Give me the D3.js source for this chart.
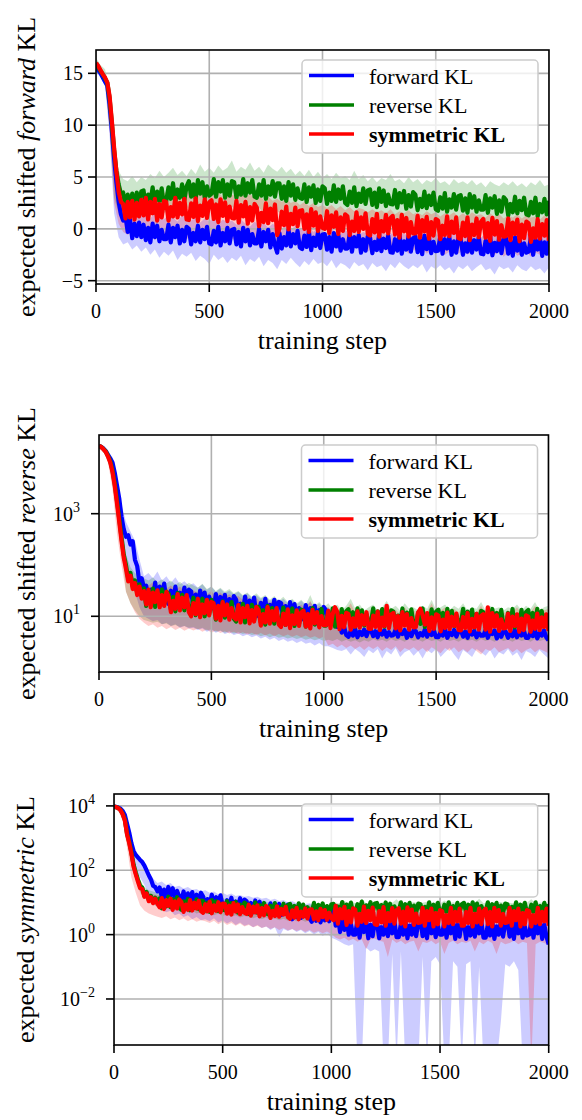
<!DOCTYPE html>
<html><head><meta charset="utf-8">
<script src="https://cdn.jsdelivr.net/npm/d3@7"></script>
<style>body{margin:0;background:#fff}svg{display:block}text{font-family:'Liberation Serif','DejaVu Serif',serif;fill:#000}</style>
</head><body><svg id="c" width="582" height="1120" font-family="Liberation Serif, DejaVu Serif, serif"></svg>
<script>
// ---------- shared ----------
const steps = d3.range(0, 2001, 10);      // training steps of the mean curves
const bandSteps = d3.range(0, 2001, 20);  // training steps of the shaded bands
const xTicks = [0, 500, 1000, 1500, 2000];
const seriesNames = ["forward KL", "reverse KL", "symmetric KL"];
const seriesColors = ["#0000ff", "#008000", "#ff0000"];

// ---------- panel 1: expected shifted forward KL (linear) ----------
const p1YTicks = [-5, 0, 5, 10, 15];
const p1FwdMean = [15.8,15.3,15.0,14.6,14.2,13.8,12.0,9.5,6.8,4.5,2.6,1.4,0.8,1.2,-0.3,0.9,-0.9,0.5,-0.7,0.6,-0.8,
0.4,-1.1,0.1,-1.3,0.5,-0.8,0.3,-1.2,-0.1,-1.0,
-1.0,0.4,-1.3,0.1,-0.8,0.3,-1.4,-0.1,-1.2,0.2,
0.0,-1.5,-0.4,-1.2,0.3,-1.3,-0.1,-1.0,0.2,-1.4,
-1.5,-0.2,-1.3,0.2,-1.6,-0.4,-1.2,0.1,-1.4,-0.1,
0.0,-1.5,-0.3,-1.7,0.1,-1.2,-0.1,-1.6,-0.5,-1.4,
-1.4,0.0,-1.7,-0.3,-1.2,-0.1,-1.8,-0.5,-1.6,-2.3,
-0.4,-1.9,-0.8,-1.6,-0.1,-1.7,-0.5,-1.4,-0.2,-1.8,
-1.95,-0.65,-1.75,-0.25,-2.05,-0.85,-1.65,-0.35,-1.85,-0.55,
-0.5,-2.0,-0.8,-2.2,-0.4,-1.7,-0.6,-2.1,-1.0,-1.9,
-1.9,-0.5,-2.2,-0.8,-1.7,-0.6,-2.3,-1.0,-2.1,-0.7,
-0.85,-2.35,-1.25,-2.05,-0.55,-2.15,-0.95,-1.85,-0.65,-2.25,
-2.3,-1.0,-2.1,-0.6,-2.4,-1.2,-2.0,-0.7,-2.2,-0.9,
-0.75,-2.25,-1.05,-2.45,-0.65,-1.95,-0.85,-2.35,-1.25,-2.15,
-2.1,-0.7,-2.4,-1.0,-1.9,-0.8,-2.5,-1.2,-2.3,-0.9,
-1.0,-2.5,-1.4,-2.2,-0.7,-2.3,-1.1,-2.0,-0.8,-2.4,
-2.45,-1.15,-2.25,-0.75,-2.55,-1.35,-2.15,-0.85,-2.35,-1.05,
-0.9,-2.4,-1.2,-2.6,-0.8,-2.1,-1.0,-2.5,-1.4,-2.3,
-2.2,-0.8,-2.5,-1.1,-2.0,-0.9,-2.6,-1.3,-2.4,-1.0];
const p1RevMean = [16.0,15.6,15.2,14.9,14.5,14.1,12.6,10.2,7.6,5.6,4.3,3.4,3.5,2.1,3.3,2.2,3.4,2.0,3.5,2.4,3.6,
3.7,2.2,3.3,2.5,4.0,2.4,3.6,2.7,3.9,2.3,
2.7,4.0,2.9,4.4,2.6,3.8,3.0,4.3,2.8,4.1,
4.6,3.1,4.3,2.9,4.7,3.4,4.5,3.0,4.1,3.2,
3.4,4.8,3.1,4.5,3.6,4.7,3.0,4.3,3.2,4.6,
4.5,3.0,4.1,3.3,4.8,3.2,4.4,3.5,4.7,3.1,
3.0,4.3,3.2,4.7,2.9,4.1,3.3,4.6,3.1,4.4,
4.4,2.9,4.1,2.7,4.5,3.2,4.3,2.8,3.9,3.0,
2.9,4.3,2.6,4.0,3.1,4.2,2.5,3.8,2.7,4.1,
3.9,2.4,3.5,2.7,4.2,2.6,3.8,2.9,4.1,2.5,
2.3,3.6,2.5,4.0,2.2,3.4,2.6,3.9,2.4,3.7,
3.8,2.3,3.5,2.1,3.9,2.6,3.7,2.2,3.3,2.4,
2.35,3.75,2.05,3.45,2.55,3.65,1.95,3.25,2.15,3.55,
3.3,1.8,2.9,2.1,3.6,2.0,3.2,2.3,3.5,1.9,
1.75,3.05,1.95,3.45,1.65,2.85,2.05,3.35,1.85,3.15,
3.25,1.75,2.95,1.55,3.35,2.05,3.15,1.65,2.75,1.85,
1.85,3.25,1.55,2.95,2.05,3.15,1.45,2.75,1.65,3.05,
2.8,1.3,2.4,1.6,3.1,1.5,2.7,1.8,3.0,1.4,
1.3,2.6,1.5,3.0,1.2,2.4,1.6,2.9,1.4,2.7];
const p1SymMean = [16.0,15.7,15.3,14.9,14.6,14.1,12.8,10.4,7.8,5.5,3.6,2.6,2.4,1.0,2.6,1.1,2.7,0.9,2.5,1.2,2.8,
1.3,3.0,0.9,2.6,1.5,2.9,0.8,2.4,1.1,2.7,
2.6,0.8,2.1,1.2,3.0,1.1,2.5,1.4,2.9,0.9,
0.85,2.45,1.15,2.95,0.75,2.25,1.25,2.85,1.05,2.55,
2.75,0.95,2.35,0.65,2.85,1.25,2.55,0.75,2.15,1.05,
1.0,2.7,0.6,2.3,1.2,2.6,0.5,2.1,0.8,2.4,
2.05,0.25,1.55,0.65,2.45,0.55,1.95,0.85,2.35,-0.6,
0.05,1.65,0.35,2.15,-0.05,1.45,0.45,2.05,0.25,1.75,
1.8,0.0,1.4,-0.3,1.9,0.3,1.6,-0.2,1.2,0.1,
0.0,1.7,-0.4,1.3,0.2,1.6,-0.5,1.1,-0.2,1.4,
1.2,-0.6,0.7,-0.2,1.6,-0.3,1.1,0.0,1.5,-0.5,
-0.65,0.95,-0.35,1.45,-0.75,0.75,-0.25,1.35,-0.45,1.05,
1.25,-0.55,0.85,-0.85,1.35,-0.25,1.05,-0.75,0.65,-0.45,
-0.45,1.25,-0.85,0.85,-0.25,1.15,-0.95,0.65,-0.65,0.95,
0.8,-1.0,0.3,-0.6,1.2,-0.7,0.7,-0.4,1.1,-0.9,
-1.0,0.6,-0.7,1.1,-1.1,0.4,-0.6,1.0,-0.8,0.7,
0.95,-0.85,0.55,-1.15,1.05,-0.55,0.75,-1.05,0.35,-0.75,
-0.7,1.0,-1.1,0.6,-0.5,0.9,-1.2,0.4,-0.9,0.7,
0.55,-1.25,0.05,-0.85,0.95,-0.95,0.45,-0.65,0.85,-1.15];
const p1FwdHi = [16.3,15.6,15.0,12.3,7.2,3.5,2.2,1.8,1.6,1.9,1.3,
1.5,1.0,1.6,1.2,0.9,1.4,1.1,0.7,1.3,1.0,
0.8,1.2,0.6,1.0,0.7,1.1,0.5,0.9,0.6,0.8,
0.4,0.9,0.5,0.2,0.7,0.3,0.6,0.1,0.5,0.2,
0.0,0.4,-0.1,0.3,0.0,-0.2,0.2,-0.3,0.1,-0.2,
-0.4,0.0,-0.3,-0.5,-0.1,-0.4,-0.2,-0.6,-0.3,-0.5,
-0.3,-0.6,-0.2,-0.5,-0.4,-0.7,-0.3,-0.5,-0.6,-0.4,
-0.6,-0.3,-0.7,-0.5,-0.4,-0.8,-0.5,-0.6,-0.3,-0.7,
-0.5,-0.7,-0.4,-0.6,-0.8,-0.5,-0.6,-0.4,-0.7,-0.5,
-0.6,-0.8,-0.5,-0.7,-0.4,-0.6,-0.8,-0.5,-0.7,-0.6];
const p1FwdLo = [15.2,14.6,13.8,9.0,1.5,-0.8,-1.5,-1.3,-2.0,-1.6,-2.2,
-1.8,-2.5,-2.0,-2.8,-2.2,-2.6,-2.1,-3.0,-2.4,-2.7,
-2.3,-3.1,-2.6,-2.9,-3.4,-2.5,-3.0,-2.7,-3.3,-2.8,
-3.1,-2.6,-3.5,-2.9,-3.2,-2.7,-3.6,-3.0,-3.3,-3.9,
-3.0,-3.4,-2.8,-3.3,-3.7,-3.1,-3.5,-2.9,-3.4,-3.2,
-3.6,-3.0,-3.8,-3.3,-3.5,-3.9,-3.2,-3.6,-3.4,-4.0,
-3.3,-3.7,-3.5,-4.1,-3.4,-3.8,-3.2,-3.6,-3.9,-3.5,
-3.8,-3.4,-4.2,-3.6,-3.9,-3.5,-4.0,-3.7,-4.3,-3.6,
-3.9,-3.5,-4.1,-3.7,-3.4,-4.0,-3.8,-4.4,-3.6,-3.9,
-3.7,-4.2,-3.5,-3.9,-4.1,-3.6,-4.0,-3.8,-4.3,-3.7];
const p1RevHi = [16.5,15.8,15.4,13.5,8.5,5.6,4.8,4.6,5.1,4.5,5.0,
4.7,5.3,4.9,5.6,5.0,5.4,5.9,5.2,5.6,5.1,
5.8,5.3,6.2,5.5,5.9,5.4,6.1,5.6,5.9,6.6,
5.5,6.0,5.7,6.4,5.6,6.0,5.4,6.2,5.8,5.5,
6.0,5.4,5.8,5.2,5.6,5.1,5.7,5.0,5.5,4.9,
5.3,4.8,5.4,4.9,5.1,4.7,5.6,4.8,5.2,4.6,
5.0,4.5,4.9,4.7,5.3,4.6,4.8,4.4,5.0,4.5,
4.8,4.3,4.7,4.5,4.9,4.4,4.6,4.2,4.8,4.4,
4.6,4.3,4.7,4.2,4.5,4.0,4.6,4.3,4.1,4.5,
4.2,4.6,4.1,4.4,4.0,4.5,4.2,4.7,4.1,4.3];
const p1RevLo = [15.4,14.8,14.0,10.0,3.0,1.5,0.8,1.0,1.2,1.0,1.4,
1.2,1.6,1.3,1.8,1.5,1.9,1.6,2.0,1.7,2.1,
1.8,2.2,1.9,2.3,2.0,2.2,1.9,2.3,2.0,2.1,
1.9,2.2,1.8,2.1,1.7,2.0,1.6,1.9,1.5,1.7,
1.4,1.6,1.3,1.5,1.2,1.4,1.1,1.3,1.0,1.2,
0.9,1.1,0.8,1.0,0.7,0.9,0.6,0.8,0.5,0.7,
0.6,0.4,0.7,0.5,0.3,0.6,0.4,0.2,0.5,0.3,
0.4,0.2,0.5,0.1,0.3,0.0,0.4,0.2,-0.1,0.2,
0.0,0.3,-0.1,0.2,0.0,-0.2,0.1,-0.1,0.2,-0.2,
0.0,-0.3,0.1,-0.2,0.0,-0.3,-0.1,0.1,-0.2,-0.1];
const p1SymHi = [16.4,15.7,15.0,12.5,7.0,3.8,3.2,3.0,3.4,3.1,3.5,
3.2,3.6,3.3,3.7,3.4,3.8,3.3,3.6,3.9,3.4,
3.7,3.3,3.6,3.2,3.8,3.4,3.5,3.1,3.6,3.3,
3.2,3.5,3.0,3.4,2.9,3.2,2.8,3.1,2.7,2.9,
2.6,2.9,2.5,2.7,2.3,2.6,2.2,2.5,2.1,2.3,
2.0,2.3,1.9,2.2,1.8,2.1,1.7,2.0,1.9,1.6,
1.9,1.6,1.8,1.5,1.9,1.4,1.7,1.5,1.8,1.4,
1.6,1.3,1.7,1.4,1.6,1.2,1.5,1.3,1.6,1.2,
1.5,1.2,1.6,1.3,1.4,1.1,1.5,1.2,1.4,1.0,
1.3,1.1,1.4,1.0,1.3,1.1,1.2,0.9,1.3,1.1];
const p1SymLo = [15.5,14.8,14.0,9.5,2.5,0.5,-0.3,-0.6,-0.2,-0.8,-0.4,
-0.9,-0.3,-1.1,-0.5,-0.8,-1.3,-0.6,-0.9,-0.4,-1.0,
-0.7,-1.2,-0.5,-0.9,-1.4,-0.8,-1.1,-0.6,-1.2,-0.9,
-1.3,-0.8,-1.5,-1.0,-1.2,-1.7,-1.1,-1.4,-1.0,-2.2,
-1.3,-1.6,-1.1,-1.5,-1.8,-1.3,-1.6,-1.2,-1.7,-1.5,
-1.9,-1.4,-1.8,-2.1,-1.6,-1.9,-1.5,-2.0,-1.7,-2.2,
-1.8,-2.1,-1.6,-2.0,-2.3,-1.8,-2.2,-1.9,-2.4,-2.0,
-2.2,-1.9,-2.4,-2.1,-2.3,-1.9,-2.5,-2.2,-2.0,-2.4,
-2.1,-2.5,-2.2,-2.0,-2.6,-2.3,-2.1,-2.5,-2.2,-2.7,
-2.3,-2.1,-2.6,-2.4,-2.2,-2.7,-2.3,-2.5,-2.2,-2.6];

// ---------- panel 2: expected shifted reverse KL (log) ----------
const p2YTickExp = [1, 3];
const p2FwdMean = [21000,20000,18600,16600,14100,12000,10000,6300,3550,2000,890,500,355,380,250,290,126,95,45,55,36,
39.6,19.8,33,22.8,45.3,21.6,37.8,24.9,43.5,20.7,
17.3,31.5,19,37.8,16.5,28.8,19.8,36.3,18,33,
30.5,15.1,26.5,13.9,31.7,17.4,29,14.5,24.2,16,
14.2,27.2,12.4,23.8,15.7,26.1,11.9,21.6,13,24.8,
21.1,10.6,17.6,12.2,24.2,11.5,20.2,13.3,23.2,11,
10,18.3,11,21.9,9.6,16.7,11.5,21,10.4,19.1,
18.1,9,15.8,8.3,18.9,10.4,17.3,8.6,14.4,9.5,
8.7,16.6,7.6,14.5,9.6,16,7.3,13.2,7.9,15.2,
13.2,8.5,11,7.6,9.8,6.2,7.5,4.8,6.4,4.3,
4.0,5.2,4.2,5.6,3.9,5.0,4.3,5.5,4.1,5.3,
5.4,4.1,5.1,3.9,5.6,4.4,5.3,4.0,4.9,4.2,
4.3,5.6,4.0,5.2,4.5,5.4,3.8,5.0,4.1,5.3,
5.1,3.9,4.7,4.2,5.5,4.0,5.0,4.3,5.4,3.9,
3.9,5.0,4.2,5.5,3.8,4.8,4.3,5.4,4.0,5.1,
5.4,4.0,5.0,3.8,5.5,4.4,5.2,3.9,4.8,4.2,
4.2,5.4,3.8,5.0,4.5,5.3,3.7,4.8,4.0,5.2,
5.0,3.8,4.6,4.1,5.4,3.9,4.9,4.2,5.3,3.8,
3.8,4.9,4.1,5.4,3.7,4.7,4.2,5.3,3.9,3.4];
const p2RevMean = [21000,20000,18200,16300,13500,10500,7000,3800,1800,800,350,160,100,55,70,38,50,29,42,25,35,
15.9,29,17.5,34.7,15.2,26.5,18.2,33.4,16.6,30.4,
27.6,13.7,23.9,12.5,28.7,15.8,26.2,13.1,21.9,14.4,
12,23,10.5,20.1,13.2,22,10,18.2,10.9,21,
17.2,8.6,14.3,9.9,19.6,9.4,16.4,10.8,18.9,9,
7.9,14.5,8.7,17.4,7.6,13.2,9.1,16.7,8.3,15.2,
15.2,7.6,13.2,6.9,15.9,8.7,14.5,7.2,12.1,8,
7.7,14.8,6.8,12.9,8.5,14.2,6.5,11.8,7.1,13.5,
12.7,6.3,10.6,7.3,14.5,6.9,12.1,8,13.9,6.6,
6.6,12,7.2,14.3,6.3,10.9,7.5,13.8,6.8,12.5,
13.8,6.8,12,6.3,14.3,7.9,13.1,6.6,10.9,7.2,
7.5,14.3,6.6,12.5,8.3,13.8,6.3,11.4,6.8,13.1,
12.4,6.2,10.3,7.1,14.2,6.8,11.8,7.8,13.6,6.5,
6.5,11.8,7.1,14.2,6.2,10.8,7.4,13.6,6.8,12.4,
13.5,6.7,11.7,6.1,14,7.7,12.8,6.4,10.7,7.1,
7.3,14,6.4,12.3,8.1,13.5,6.1,11.2,6.7,12.8,
12.1,6.1,10.1,7,13.9,6.6,11.6,7.6,13.3,6.3,
6.3,11.6,7,13.9,6.1,10.6,7.3,13.3,6.6,12.1,
13.3,6.6,11.6,6.1,13.9,7.6,12.7,6.3,10.6,7];
const p2SymMean = [21000,20000,18000,16000,13000,10000,6500,3500,1600,700,300,140,85,48,62,34,44,26,38,22,31,
17,33,15,29,19,32,15,26,16,30,
24,12,20,14,27,13,23,15,26,12,
10,18,11,22,9.6,17,11.5,21,10.4,19,
18,9,16,8.3,19,10.4,17,8.6,14.4,9.5,
8.7,16.6,7.6,14.5,9.6,16,7.3,13.2,7.9,15.2,
13.2,6.6,11,7.6,15.1,7.2,12.6,8.3,14.5,6.9,
6.2,11.3,6.8,13.6,5.9,10.4,7.1,13,6.5,11.9,
12.8,6.3,11.1,5.8,13.3,7.3,12.1,6.1,10.1,6.7,
6.7,12.8,5.9,11.2,15,12.3,5.6,10.2,6.1,11.7,
11,5.5,9.1,6.3,12.5,6,10.5,6.9,12,5.7,
5.7,10.3,6.2,12.4,5.4,9.4,6.5,16,5.9,10.8,
11.6,5.8,10.1,5.3,12.1,6.6,11,5.5,9.2,6.1,
6.2,11.9,14,10.4,6.9,11.5,5.2,9.5,5.7,10.9,
10.3,5.1,8.6,5.9,11.8,5.6,9.8,6.5,11.3,5.4,
5.3,9.7,5.9,11.6,5.1,8.9,6.1,11.2,5.5,10.2,
11,5.5,15,5,11.5,6.3,10.5,5.2,8.7,5.8,
5.9,11.3,5.2,9.9,6.5,10.9,5,9,5.4,10.4,
9.9,5,8.3,5.7,11.3,5.4,9.5,6.2,10.9,5.2];
const p2FwdHi = [23000,21000,17500,12000,4800,1500,700,450,300,130,60,
70,55,75,50,60,45,58,42,48,40,
44,36,42,33,38,30,35,28,32,27,
30,25,28,23,26,22,25,20,23,19,
22,18,21,17,20,16,19,15,18,14,
15,12,10,8.5,9,7.5,8.5,7,8,7.5,
8,7,8.5,6.8,7.5,7,8.2,6.8,7.6,7,
8,6.8,7.5,7.2,8.3,6.9,7.6,7,8,6.8,
7.5,7,8.2,6.8,7.6,7.1,8,6.9,7.4,7.2,
8.1,6.8,7.5,7,7.8,6.9,7.6,7.2,8,7];
const p2FwdLo = [19000,17000,13000,7000,1800,500,120,60,30,15,10,
9,8,8.5,7,7.5,6.5,7,6,6.5,5.8,
6,5.4,5.8,5,5.4,4.8,5.2,4.5,4.9,4.3,
4.6,4.1,4.4,3.9,4.2,3.7,4,3.5,3.8,3.3,
3.6,3.2,3.4,3,3.3,2.9,3.1,2.7,3,2.6,
2.6,2.4,2.2,2.1,2.3,1.8,2.3,2,1.6,2.2,
1.9,2.3,1.5,2.1,1.8,2.4,1.6,2.0,2.2,1.7,
2.1,1.5,2.2,1.9,2.3,1.6,2.0,2.4,1.8,1.4,
2.2,1.9,1.6,2.3,2.0,1.7,2.2,1.5,2.0,1.8,
2.3,1.7,2.0,1.4,2.1,1.9,1.6,2.2,1.8,1.5];
const p2RevHi = [23000,21000,17000,10000,3000,800,160,90,70,60,55,
50,58,46,53,44,50,41,47,39,45,
40,36,43,34,38,31,36,30,34,28,
31,26,29,24,28,23,26,21,25,20,
24,19,22,18,21,17,26,16,19,15,
18,14,17,13,16,22,14,17,13,15,
17,13,15,20,14,16,13,18,14,15,
13,16,14,21,13,15,17,13,16,14,
18,13,15,14,19,13,16,14,15,13,
15,14,17,13,16,14,19,13,15,16];
const p2RevLo = [19000,17000,13000,6000,1000,200,30,18,13,10,8.5,
8,7.5,7.8,7,7.2,6.5,6.8,6.2,6.5,6,
6.2,5.6,6,5.3,5.6,5,5.3,4.8,5.1,4.6,
4.9,4.5,4.7,4.3,4.5,4.1,4.3,3.9,4.2,3.8,
4,3.7,3.9,3.6,3.8,3.5,3.7,3.4,3.6,3.3,
3.5,3.3,3.6,3.2,3.5,3.2,3.4,3.1,3.4,3.2,
3.6,3.3,3.5,3.2,3.6,3.3,3.5,3.2,3.6,3.3,
3.5,3.2,3.6,3.3,3.5,3.2,3.6,3.3,3.5,3.2,
3.6,3.3,3.5,3.2,3.6,3.3,3.5,3.2,3.6,3.3,
3.5,3.2,3.6,3.3,3.5,3.2,3.6,3.3,3.5,3.2];
const p2SymHi = [23000,20000,15000,7000,1400,300,90,65,55,48,42,
40,46,37,42,35,40,33,38,31,36,
32,29,34,27,31,25,29,24,27,23,
25,21,24,20,23,19,21,18,20,17,
19,16,18,15,17,14,20,13,16,13,
15,12,14,11.5,13.5,18,12,14,11.5,13,
14,11,13,17,12,13.5,11,15,12,13,
11.5,14,12,18,11,13,15,11.5,14,12,
15,11.5,13,12,16,11,14,12,13,11.5,
13,12,15,11,14,12,16,11.5,13,14];
const p2SymLo = [19000,16000,10000,3000,400,100,30,18,12,9,7.5,
6.5,7,6,6.5,5.6,6.2,5.4,6,5.2,5.8,
5.3,5.7,5,5.5,4.8,5.3,4.7,5.1,4.6,5,
4.5,4.9,4.4,4.8,4.3,4.7,4.2,4.6,4.1,4.5,
4.1,4.4,4,4.3,3.9,4.2,3.8,4.1,3.7,4,
2.7,2.9,2.5,2.8,2.4,2.7,2.3,2.6,2.2,2.6,
2.3,2.6,2.1,2.5,2.2,2.6,2,2.4,2.2,2.5,
2.1,2.4,2,2.5,2.2,1.9,2.4,2.1,2.5,2,
2.3,2,2.4,2.1,1.8,2.3,2.1,2.5,2,2.2,
2.4,2,2.3,1.9,2.2,2.4,2,2.3,2.1,1.9];

// ---------- panel 3: expected symmetric KL (log) ----------
const p3YTickExp = [-2, 0, 2, 4];
const p3FwdMean = [9500,9300,8900,8200,7000,5200,2800,1500,700,400,300,250,210,180,140,100,70,52,33,30,22,
29,14.4,25.2,13.2,30.2,16.6,27.6,13.8,23,15.2,
11.5,21.9,10,19.1,12.6,21,9.6,17.4,10.4,20,
15.2,7.6,12.7,8.7,17.4,8.3,14.5,9.5,16.7,7.9,
6.4,11.7,7.1,14,6.1,10.7,7.3,13.5,6.7,12.3,
11,5.5,9.6,5,11.5,6.3,10.5,5.2,8.7,5.8,
4.9,9.4,4.3,8.2,5.4,9,4.1,7.4,4.5,8.6,
6.1,3,5.1,3.5,6.9,3.3,5.8,3.8,6.7,3.2,
2.5,4.5,2.7,5.4,2.4,4.1,2.8,5.2,2.6,4.8,
5.8,1.9,3.9,1.2,3.9,1.4,3.2,1.0,2.1,1.0,
1.0,2.9,0.8,2.3,1.2,2.7,0.77,2.0,0.9,2.5,
2.3,0.77,1.7,1.0,2.9,0.9,2.2,1.1,2.7,0.83,
0.83,2.2,1.0,2.9,0.77,1.9,1.0,2.7,0.9,2.3,
2.7,0.9,2.2,0.77,2.9,1.1,2.5,0.83,1.9,1.0,
1.0,2.8,0.8,2.2,1.1,2.6,0.74,2.0,0.87,2.4,
2.2,0.74,1.7,0.94,2.8,0.87,2.1,1.1,2.6,0.8,
0.8,2.1,0.94,2.8,0.74,1.8,1.0,2.6,0.87,2.2,
2.6,0.87,2.1,0.74,2.8,1.1,2.4,0.8,1.8,0.94,
1.0,2.8,0.8,2.2,1.1,2.6,0.74,2.0,0.87,0.5];
const p3RevMean = [9500,9200,8600,7400,5700,3700,1400,760,360,150,85,52,33,29,16,21,12,16,10.5,14,10,
13.2,6.6,11,7.6,15.1,7.2,12.6,8.3,14.5,6.9,
5.9,10.8,6.5,13,5.7,9.9,6.8,12.5,6.2,11.4,
11.3,5.6,9.8,5.1,11.8,6.5,10.8,5.4,9,5.9,
5.7,10.9,5,9.5,6.3,10.4,4.8,8.6,5.2,9.9,
8.7,4.4,7.3,5,10,4.8,8.3,5.5,9.6,4.6,
4.3,7.9,4.8,9.5,4.2,7.2,5,9.1,4.5,8.3,
9,4.5,7.8,4.1,9.4,5.1,8.6,4.3,7.1,4.7,
5.1,9.7,4.4,8.4,5.6,9.3,4.2,7.7,4.6,8.8,
9,4.5,7.5,5.2,10.3,4.9,8.6,5.6,9.9,4.7,
4.8,8.8,5.3,10.6,4.6,8.1,5.5,10.2,5,9.2,
9.6,4.8,8.3,4.4,10,5.5,9.1,4.6,7.6,5,
5.3,10.1,4.6,8.8,5.9,9.7,4.5,8,4.8,9.2,
8.8,4.5,7.3,5.1,10.1,4.8,8.5,5.6,9.7,4.7,
4.7,8.5,5.1,10.1,4.5,7.7,5.3,9.7,4.8,8.8,
9.7,4.8,8.5,4.5,10.1,5.6,9.2,4.7,7.7,5.1,
5.3,10.1,4.7,8.8,5.9,9.7,4.5,8,4.8,9.2,
8.8,4.5,7.3,5.1,10.1,4.8,8.5,5.6,9.7,4.7,
4.7,8.5,5.1,10.1,4.5,7.7,5.3,9.7,4.8,8.8];
const p3SymMean = [9500,9200,8500,7300,5500,3500,1300,700,330,130,75,45,28,26,15,19,11,14.5,9.5,13,9,
7.1,13.6,6.2,11.9,7.8,13.1,5.9,10.8,6.5,12.4,
10.3,5.1,8.6,5.9,11.8,5.6,9.8,6.5,11.3,5.4,
4.8,8.8,5.3,10.6,4.6,8.1,5.5,10.2,5,9.2,
9.1,4.5,7.9,4.2,9.5,5.2,8.7,4.3,7.2,4.8,
4.4,8.5,3.9,7.4,4.9,8.1,3.7,6.7,4,7.7,
6.6,3.3,5.5,3.8,7.6,3.6,6.3,4.2,7.3,3.5,
3.1,5.7,3.4,6.8,3,5.2,3.6,6.5,3.2,5.9,
6.1,3,5.3,2.8,6.3,3.5,5.8,2.9,4.8,3.2,
2.8,7.8,2.2,6.2,3.2,7.3,2.0,5.4,2.4,6.6,
5.9,1.9,4.4,2.5,7.4,2.3,5.5,2.8,6.9,2.1,
2.0,5.4,2.4,7.2,1.9,4.7,2.6,6.7,2.2,5.7,
6.6,2.2,5.2,1.8,7,2.7,6,2,4.5,2.3,
2.4,6.8,1.9,5.4,2.8,6.4,1.8,4.7,2.1,5.8,
5.4,1.8,4,2.3,6.8,2.1,5.1,2.6,6.4,1.9,
1.9,5.1,2.3,6.8,1.8,4.4,2.4,6.4,2.1,5.4,
6.4,2.1,5.1,1.8,6.8,2.6,5.8,1.9,4.4,2.3,
2.4,6.8,1.9,5.4,2.8,6.4,1.8,4.7,2.1,5.8,
5.4,1.8,4,2.3,6.8,2.1,5.1,2.6,6.4,1.9];
const p3FwdHi = [10000,9500,7500,3500,700,350,250,160,90,55,40,
45,35,40,30,33,27,30,25,26,22,
24,20,22,18,20,17,19,16,17,15,
16,14,15,13,14,12,13,11,12,10,
11,9.5,10,9,9.5,8.5,9,8,8.5,7.5,
7,6.5,6,5.5,6,5.2,5.8,5,5.5,5,
5.6,4.9,5.4,5,5.8,4.8,5.3,5,5.6,4.9,
5.4,5,5.7,4.8,5.3,5.1,5.6,4.9,5.4,5,
5.7,4.9,5.3,5.1,5.6,4.8,5.5,5,5.3,4.9,
5.6,5,5.4,4.8,5.5,5.1,5.3,4.9,5.6,5];
const p3FwdLo = [8000,7500,5000,1200,180,100,60,35,18,10,7,
6,5,5.5,4,4.5,3.5,4,3,3.5,2.8,
3,2.6,3.2,2.4,2.8,2.2,2.6,2,2.4,1.9,
2.1,1.7,2,1.6,1.8,1.4,1.7,0.85,1.5,1.3,
1.5,1.2,1.4,1.1,1.3,1,1.2,0.9,1.1,0.8,
0.7,0.6,0.5,0.45,0.5,0.0001,0.0001,0.4,0.3,0.35,
0.3,0.0001,0.0001,0.25,0.0001,0.3,0.0001,0.0001,0.0001,0.0001,
0.2,0.0001,0.15,0.2,0.12,0.0001,0.0001,0.15,0.1,0.0001,
0.12,0.15,0.0001,0.1,0.0001,0.0001,0.0001,0.0001,0.002,0.12,
0.1,0.15,0.08,0.0001,0.0001,0.0001,0.0001,0.0001,0.0001,0.0001];
const p3RevHi = [10000,9500,7000,2500,600,150,50,30,24,22,20,
19,21,17,19,16,18,15,17,14,15,
16,13,15,12,14,11.5,13,11,12,10.5,
11.5,10,11,9.5,10.5,9,10,8.8,9.5,8.5,
9.2,8.3,9,8,8.8,7.8,8.5,7.6,8.3,7.5,
10,9.2,11,9.5,10.2,9,13,9.4,10,9.1,
9.6,10.4,9,9.8,12.5,9.2,10,9.5,10.3,9.1,
9.7,10.5,9.2,9.9,9.3,11.5,9.5,10.1,9.2,9.8,
10.3,9.1,9.7,13,9.4,10,9.2,9.9,10.4,9.3,
9.8,9.2,10.1,9.5,9.9,12.5,9.3,10,9.6,9.4];
const p3RevLo = [8000,7500,5000,900,150,45,20,14,10,8.5,7.5,
6.5,7,5.8,6.5,5.2,6,4.8,5.5,4.5,5,
4.4,4.8,4,4.5,3.8,4.2,3.6,4,3.4,3.8,
3.5,3.2,3.6,3,3.4,2.9,3.2,2.8,3.1,2.7,
3,2.6,2.9,2.5,2.8,2.4,2.7,2.4,2.6,2.3,
3.2,2.9,3.4,3,3.3,2.8,3.1,2.9,3.3,3,
3.1,2.8,3.3,2.9,3.2,3,2.8,3.2,2.9,3.1,
3,3.3,2.8,3.1,2.9,3.2,3,2.8,3.2,2.9,
3.1,2.9,3.3,2.8,3,3.2,2.9,3.1,2.8,3.2,
2.9,3.2,3,2.8,3.1,2.9,3.3,3,2.9,3.1];
const p3SymHi = [10000,9000,6000,1800,400,100,40,26,20,18,17,
16,18,14.5,16,13.5,15,12.5,14,12,13,
13.5,11.5,13,10.5,12,10,11.5,9.5,11,9,
10.5,9,10,8.5,9.5,8,9,7.8,8.5,7.5,
8.2,7.3,8,7,7.8,6.8,7.5,6.6,7.3,6.5,
7.5,6.8,8,6.9,7.4,6.6,7.8,6.7,7.6,6.5,
7.3,6.6,7.9,6.8,7.5,6.4,7.7,6.9,7.4,6.6,
7.8,6.7,7.3,6.5,7.6,6.8,7.4,6.6,7.9,6.7,
7.5,6.4,7.7,6.9,7.3,6.6,7.8,6.5,7.4,6.8,
7.6,6.5,7.9,6.7,7.3,6.9,7.5,6.6,7.7,6.8];
const p3SymLo = [8000,7000,3500,500,60,20,8,5.5,4.5,4,3.6,
3.3,3.7,3,3.4,2.8,3.2,2.6,3,2.5,2.8,
2.6,2.3,2.7,2.1,2.5,2,2.3,1.9,2.2,1.8,
2,1.7,1.9,1.6,1.8,1.5,1.7,1.4,1.6,1.35,
1.5,1.3,1.45,1.2,1.4,1.15,1.3,1.1,1.25,1.05,
0.8,0.7,0.8,0.65,0.75,0.6,0.7,0.35,0.7,0.75,
0.65,0.6,0.2,0.7,0.55,0.65,0.5,0.6,0.65,0.3,
0.6,0.55,0.65,0.5,0.6,0.25,0.55,0.65,0.5,0.6,
0.55,0.65,0.3,0.6,0.5,0.65,0.55,0.25,0.6,0.5,
0.55,0.65,0.5,0.6,0.55,0.0001,0.5,0.6,0.55,0.45];

// ---------- panel definitions (layout only) ----------
const panels = [
  {l:96, r:549, t:50, b:284, log:false, domain:[-5.32, 17.25], yTicks:p1YTicks,
   mean:[p1FwdMean,p1RevMean,p1SymMean], lo:[p1FwdLo,p1RevLo,p1SymLo], hi:[p1FwdHi,p1RevHi,p1SymHi],
   ylab:["expected shifted ","forward"," KL"], ylabX:35, tickPad:13},
  {l:99, r:548.5, t:435, b:672, log:true, domain:[Math.pow(10,-0.086), Math.pow(10,4.534)], yTicks:p2YTickExp,
   mean:[p2FwdMean,p2RevMean,p2SymMean], lo:[p2FwdLo,p2RevLo,p2SymLo], hi:[p2FwdHi,p2RevHi,p2SymHi],
   ylab:["expected shifted ","reverse"," KL"], ylabX:35, tickPad:19},
  {l:114, r:548.7, t:794, b:1045, log:true, domain:[Math.pow(10,-3.43), Math.pow(10,4.37)], yTicks:p3YTickExp,
   mean:[p3FwdMean,p3RevMean,p3SymMean], lo:[p3FwdLo,p3RevLo,p3SymLo], hi:[p3FwdHi,p3RevHi,p3SymHi],
   ylab:["expected ","symmetric"," KL"], ylabX:34, tickPad:19}
];

const FONT = "Liberation Serif, DejaVu Serif, serif";
const svg = d3.select("#c");
const defs = svg.append("defs");
const GRID = "#b0b0b0";

panels.forEach((p, pi) => {
  const x = d3.scaleLinear().domain([0, 2000]).range([p.l, p.r]);
  const y = (p.log ? d3.scaleLog() : d3.scaleLinear()).domain(p.domain).range([p.b, p.t]);
  const cid = "clip" + pi;
  defs.append("clipPath").attr("id", cid).append("rect")
    .attr("x", p.l).attr("y", p.t).attr("width", p.r - p.l).attr("height", p.b - p.t);
  const g = svg.append("g").attr("font-family", FONT);
  const plot = g.append("g").attr("clip-path", `url(#${cid})`);
  const yv = v => p.log ? y(Math.max(v, 1e-8)) : y(v);

  // bands
  seriesColors.forEach((c, si) => {
    const area = d3.area()
      .x((d, i) => x(bandSteps[i]))
      .y0((d, i) => yv(p.lo[si][i]))
      .y1((d, i) => yv(p.hi[si][i]));
    plot.append("path").datum(p.lo[si]).attr("d", area)
      .attr("fill", c).attr("fill-opacity", 0.2).attr("stroke", "none");
  });

  // grid
  const tickVals = p.log ? p.yTicks.map(e => Math.pow(10, e)) : p.yTicks;
  plot.selectAll(".gx").data(xTicks).enter().append("line")
    .attr("x1", d => x(d)).attr("x2", d => x(d)).attr("y1", p.t).attr("y2", p.b)
    .attr("stroke", GRID).attr("stroke-width", 1.6);
  plot.selectAll(".gy").data(tickVals).enter().append("line")
    .attr("x1", p.l).attr("x2", p.r).attr("y1", d => y(d)).attr("y2", d => y(d))
    .attr("stroke", GRID).attr("stroke-width", 1.6);

  // mean lines
  seriesColors.forEach((c, si) => {
    const line = d3.line().x((d, i) => x(steps[i])).y(d => yv(d));
    plot.append("path").datum(p.mean[si]).attr("d", line)
      .attr("fill", "none").attr("stroke", c).attr("stroke-width", 4.2)
      .attr("stroke-linejoin", "round");
  });

  // spines
  g.append("rect").attr("x", p.l).attr("y", p.t).attr("width", p.r - p.l).attr("height", p.b - p.t)
    .attr("fill", "none").attr("stroke", "#000").attr("stroke-width", 1.6);

  // x ticks
  xTicks.forEach(v => {
    g.append("line").attr("x1", x(v)).attr("x2", x(v)).attr("y1", p.b).attr("y2", p.b + 8)
      .attr("stroke", "#000").attr("stroke-width", 1.6);
    g.append("text").attr("x", x(v)).attr("y", p.b + 34).attr("text-anchor", "middle")
      .attr("font-size", 20).text(v);
  });
  g.append("text").attr("x", (p.l + p.r) / 2).attr("y", p.b + 65).attr("text-anchor", "middle")
    .attr("font-size", 26).text("training step");

  // y ticks
  p.yTicks.forEach((v, k) => {
    const yy = y(tickVals[k]);
    g.append("line").attr("x1", p.l - 8).attr("x2", p.l).attr("y1", yy).attr("y2", yy)
      .attr("stroke", "#000").attr("stroke-width", 1.6);
    const t = g.append("text").attr("x", p.l - p.tickPad).attr("y", yy + 7)
      .attr("text-anchor", "end").attr("font-size", 20);
    if (p.log) {
      t.append("tspan").text("10");
      t.append("tspan").attr("dy", -9).attr("font-size", 14).text(String(v).replace("-", "\u2212"));
    } else {
      t.text(String(v).replace("-", "\u2212"));
    }
  });

  // y label
  const yl = g.append("text").attr("transform", `translate(${p.ylabX},${(p.t + p.b) / 2}) rotate(-90)`)
    .attr("text-anchor", "middle").attr("font-size", 26);
  yl.append("tspan").text(p.ylab[0]);
  yl.append("tspan").attr("font-style", "italic").text(p.ylab[1]);
  yl.append("tspan").text(p.ylab[2]);

  // legend
  const lx = p.r - 247, ly = p.t + 10;
  const lg = g.append("g");
  lg.append("rect").attr("x", lx).attr("y", ly).attr("width", 236).attr("height", 93)
    .attr("rx", 4).attr("fill", "#fff").attr("fill-opacity", 0.8)
    .attr("stroke", "#cccccc").attr("stroke-width", 1.5);
  const rowY = [15.5, 45, 74];
  seriesNames.forEach((n, si) => {
    lg.append("line").attr("x1", lx + 7).attr("x2", lx + 52)
      .attr("y1", ly + rowY[si]).attr("y2", ly + rowY[si])
      .attr("stroke", seriesColors[si]).attr("stroke-width", 3.4);
    lg.append("text").attr("x", lx + 67).attr("y", ly + rowY[si] + 8)
      .attr("font-size", 22).attr("font-weight", si === 2 ? "bold" : "normal").text(n);
  });
});
</script></body></html>
